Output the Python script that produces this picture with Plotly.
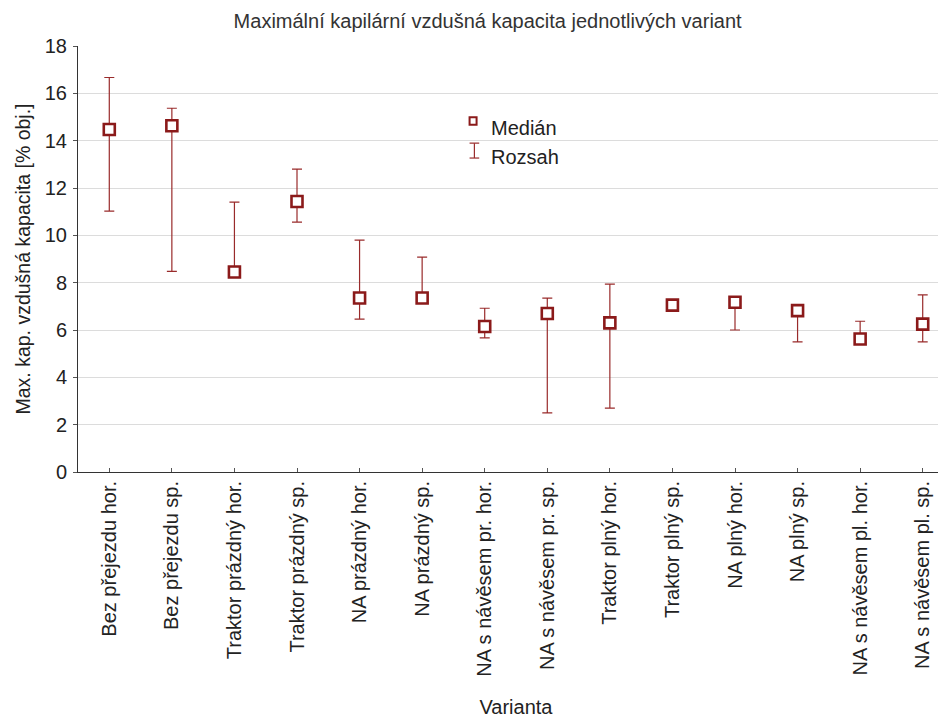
import plotly.graph_objects as go

# data
varianty = ["Bez přejezdu hor.", "Bez přejezdu sp.", "Traktor prázdný hor.", "Traktor prázdný sp.",
            "NA prázdný hor.", "NA prázdný sp.", "NA s návěsem pr. hor.", "NA s návěsem pr. sp.",
            "Traktor plný hor.", "Traktor plný sp.", "NA plný hor.", "NA plný sp.",
            "NA s návěsem pl. hor.", "NA s návěsem pl. sp."]
median = [14.47, 14.63, 8.45, 11.43, 7.35, 7.35, 6.15, 6.7, 6.3, 7.05, 7.17, 6.82, 5.62, 6.25]
maximum = [16.67, 15.37, 11.4, 12.8, 9.8, 9.08, 6.92, 7.35, 7.94, 7.1, 7.22, 6.86, 6.37, 7.48]
minimum = [11.02, 8.48, 8.45, 10.56, 6.46, 7.35, 5.67, 2.5, 2.7, 6.85, 6.0, 5.5, 5.62, 5.5]

red = "#8b1a1a"
bar_red = "#992b2b"
font = "Liberation Sans, Arial, sans-serif"

err_plus = [mx - m for mx, m in zip(maximum, median)]
err_minus = [m - mn for m, mn in zip(median, minimum)]

fig = go.Figure()
fig.add_trace(go.Scatter(
    x=varianty, y=median, mode="markers",
    marker=dict(symbol="square", size=11, color="white", line=dict(color=red, width=2.6)),
    error_y=dict(type="data", symmetric=False, array=err_plus, arrayminus=err_minus,
                 color=bar_red, thickness=1.2, width=5),
    showlegend=False,
))

# legend drawn by hand
fig.add_shape(type="rect", xref="paper", yref="paper", x0=0.447, x1=0.455, y0=0.815, y1=0.833,
              line=dict(color=red, width=2), fillcolor="white")
fig.add_shape(type="line", xref="paper", yref="paper", x0=0.4525, x1=0.4525, y0=0.737, y1=0.772,
              line=dict(color=bar_red, width=1.2))
fig.add_shape(type="line", xref="paper", yref="paper", x0=0.447, x1=0.458, y0=0.772, y1=0.772,
              line=dict(color=bar_red, width=1.2))
fig.add_shape(type="line", xref="paper", yref="paper", x0=0.447, x1=0.458, y0=0.737, y1=0.737,
              line=dict(color=bar_red, width=1.2))
fig.add_annotation(xref="paper", yref="paper", x=0.469, y=0.808, text="Medián", showarrow=False,
                   xanchor="left", yanchor="middle", font=dict(size=20, color="#222"))
fig.add_annotation(xref="paper", yref="paper", x=0.469, y=0.739, text="Rozsah", showarrow=False,
                   xanchor="left", yanchor="middle", font=dict(size=20, color="#222"))

fig.update_layout(
    width=946, height=717,
    margin=dict(l=70, r=0, t=38, b=253),
    plot_bgcolor="white", paper_bgcolor="white",
    font=dict(family=font, size=20, color="#222"),
    title=dict(text="Maximální kapilární vzdušná kapacita jednotlivých variant",
               x=0.507, xanchor="center", y=0.982, yanchor="middle",
               font=dict(size=20, color="#333")),
    xaxis=dict(title=dict(text="Varianta", font=dict(size=20), standoff=24), tickangle=-90, showgrid=False,
               showline=True, linecolor="#333", ticks="inside", ticklen=4, tickcolor="#555",
               range=[-0.5, 13.5], tickfont=dict(size=20)),
    yaxis=dict(title=dict(text="Max. kap. vzdušná kapacita [% obj.]", font=dict(size=19.5), standoff=8),
               range=[0, 18], dtick=2, showgrid=True, gridcolor="#dcdcdc",
               showline=True, linecolor="#333", ticks="outside", ticklen=4, tickcolor="#555",
               ticklabelstandoff=2, zeroline=False, tickfont=dict(size=20)),
)

fig.write_html("out.html")
